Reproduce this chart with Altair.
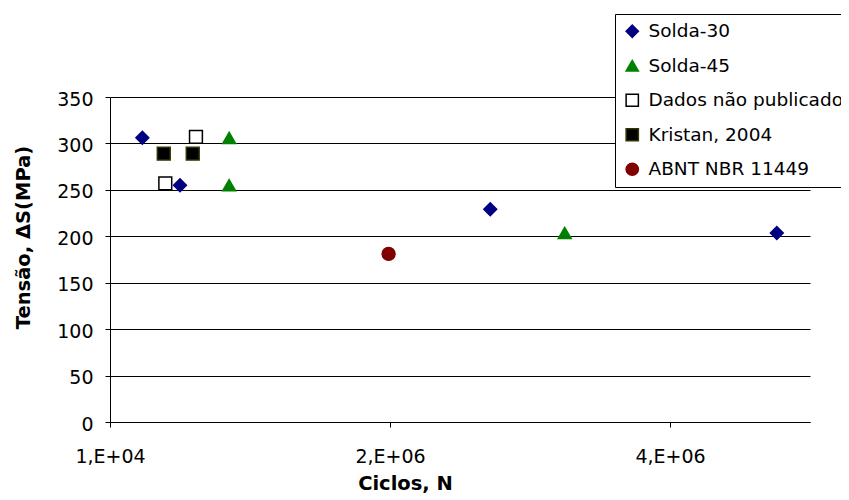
import altair as alt
import pandas as pd

# ---- data ----
series = ["Solda-30", "Solda-45", "Dados não publicados", "Kristan, 2004", "ABNT NBR 11449"]

solda30_n = [241000, 510000, 2726000, 4773000]
solda30_s = [306, 255, 229, 203.5]

solda45_n = [861000, 861000, 3258000]
solda45_s = [306, 255, 203.5]

dados_n = [405000, 624000]
dados_s = [257, 307]

kristan_n = [394000, 601000]
kristan_s = [289, 289]

abnt_n = [2000000]
abnt_s = [181]

x_ticks = [10000, 2010000, 4010000]
x_tick_labels = ["1,E+04", "2,E+06", "4,E+06"]
y_ticks = [0, 50, 100, 150, 200, 250, 300, 350]

fills = ["#000080", "#008000", "#FFFFFF", "#000000", "#800000"]
strokes = ["#000080", "#008000", "#000000", "#333300", "#800000"]
shapes = ["diamond", "triangle-up", "square", "square", "circle"]

rows = []
for name, ns, ss in [
    (series[0], solda30_n, solda30_s),
    (series[1], solda45_n, solda45_s),
    (series[2], dados_n, dados_s),
    (series[3], kristan_n, kristan_s),
    (series[4], abnt_n, abnt_s),
]:
    for n, s in zip(ns, ss):
        rows.append({"Serie": name, "N": n, "S": s})
df = pd.DataFrame(rows)

label_expr = "'" + x_tick_labels[-1] + "'"
for v, lab in reversed(list(zip(x_ticks[:-1], x_tick_labels[:-1]))):
    label_expr = f"datum.value == {v} ? '{lab}' : ({label_expr})"

FONT = "DejaVu Sans"

legend = alt.Legend(
    title=None,
    orient="none",
    legendX=505,
    legendY=-83,
    fillColor="white",
    strokeColor="black",
    padding=8,
    rowPadding=15.5,
    labelOffset=7,
    symbolSize=150,
    symbolStrokeWidth=1.5,
    labelFont=FONT,
    labelFontSize=18.5,
    labelColor="black",
    labelLimit=500,
)

chart = alt.Chart(df).mark_point(
    filled=True, size=165, strokeWidth=1.5, opacity=1, fillOpacity=1
).encode(
    x=alt.X(
        "N:Q",
        scale=alt.Scale(domain=[10000, 5010000], nice=False, zero=False),
        axis=alt.Axis(
            values=x_ticks,
            labelExpr=label_expr,
            title="Ciclos, N",
            grid=False,
            labelFlush=False,
            labelOverlap=False,
            labelPadding=20,
            labelFontSize=19,
            titleX=295,
            titleY=67,
            titleAlign="center",
            titleBaseline="alphabetic",
        ),
    ),
    y=alt.Y(
        "S:Q",
        scale=alt.Scale(domain=[0, 350], nice=False),
        axis=alt.Axis(
            values=y_ticks,
            title="Tensão, ΔS(MPa)",
            grid=True,
            labelPadding=12,
            labelFontSize=19,
            labelOffset=2,
            titleX=-87,
            titleY=140,
            titleAngle=270,
            titleAlign="center",
            titleBaseline="middle",
        ),
    ),
    fill=alt.Fill("Serie:N", scale=alt.Scale(domain=series, range=fills), legend=legend),
    stroke=alt.Stroke("Serie:N", scale=alt.Scale(domain=series, range=strokes), legend=legend),
    shape=alt.Shape("Serie:N", scale=alt.Scale(domain=series, range=shapes), legend=legend),
).properties(
    width=700,
    height=325,
    background="white",
    autosize=alt.AutoSizeParams(type="none"),
    padding={"left": 102, "top": 89, "right": 31, "bottom": 72},
).configure_view(
    strokeWidth=0
).configure_axis(
    labelFont=FONT,
    titleFont=FONT,
    titleFontSize=19.5,
    titleFontWeight="bold",
    labelColor="black",
    titleColor="black",
    domainColor="black",
    domainWidth=1,
    tickColor="black",
    tickSize=5,
    tickWidth=1,
    gridColor="black",
    gridWidth=1,
    gridOpacity=1,
)

chart.save("out.html", embed_options={"renderer": "svg", "actions": False})
